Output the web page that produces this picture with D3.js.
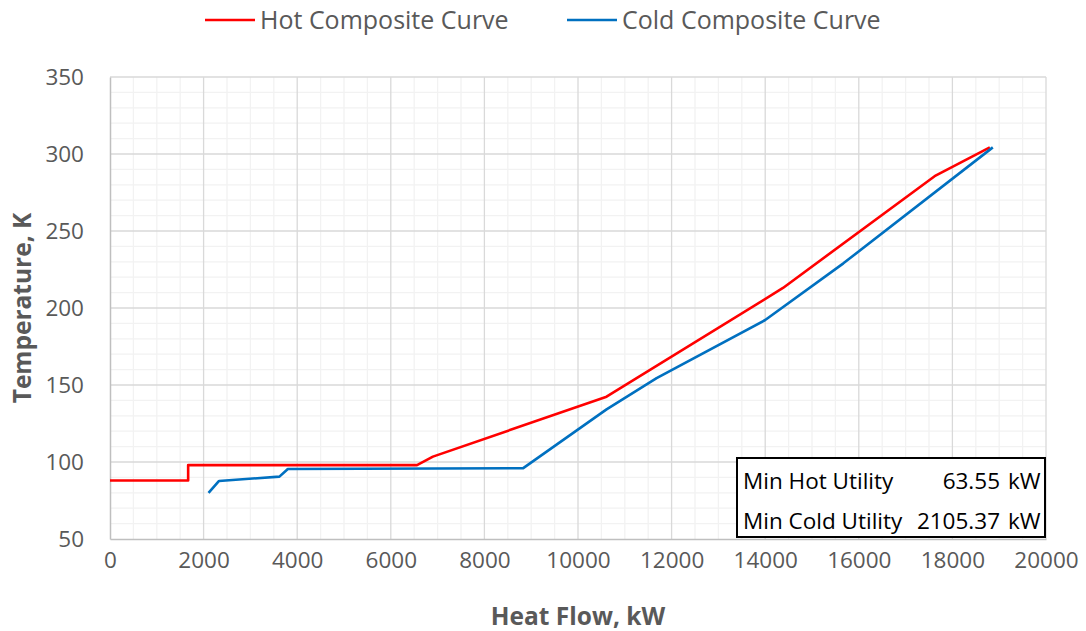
<!DOCTYPE html>
<html>
<head>
<meta charset="utf-8">
<script src="https://cdn.jsdelivr.net/npm/d3@7"></script>
<style>
  html, body { margin: 0; padding: 0; background: #fff; }
  svg { display: block; font-family: "Open Sans", "Noto Sans", sans-serif; }
</style>
</head>
<body>
<svg id="chart" width="1086" height="631"></svg>
<script>
// Composite curves: heat flow (kW) against temperature (K)
const hotHeat  = [0, 1670, 1670, 6560, 6900, 10610, 14380, 17620, 18800];
const hotTemp  = [88, 88, 98, 98, 103.5, 142.4, 213, 285.6, 304.3];
const coldHeat = [2105.37, 2330, 3620, 3800, 8830, 10610, 11680, 14000, 15670, 18863.55];
const coldTemp = [80, 87.7, 90.5, 95.5, 96, 134.2, 154.5, 192.2, 229, 304.3];

const xTicks = [0, 2000, 4000, 6000, 8000, 10000, 12000, 14000, 16000, 18000, 20000];
const yTicks = [50, 100, 150, 200, 250, 300, 350];

const seriesNames = ["Hot Composite Curve", "Cold Composite Curve"];
const seriesColors = ["#FF0000", "#0070C0"];

const utilityLabels = ["Min Hot Utility", "Min Cold Utility"];
const utilityValues = ["63.55", "2105.37"];
const utilityUnit = "kW";

const svg = d3.select("#chart");
const m = { left: 110, right: 1046, top: 77, bottom: 539 };

const x = d3.scaleLinear().domain([0, 20000]).range([m.left, m.right]);
const y = d3.scaleLinear().domain([50, 350]).range([m.bottom, m.top]);

// minor grid
const g = svg.append("g");
g.selectAll("line.mx").data(d3.range(0, 20001, 500).filter(v => v % 2000 !== 0))
  .join("line").attr("x1", d => x(d)).attr("x2", d => x(d))
  .attr("y1", m.top).attr("y2", m.bottom)
  .attr("stroke", "#f2f2f2").attr("stroke-width", 1.3);
g.selectAll("line.my").data(d3.range(50, 351, 10).filter(v => v % 50 !== 0))
  .join("line").attr("y1", d => y(d)).attr("y2", d => y(d))
  .attr("x1", m.left).attr("x2", m.right)
  .attr("stroke", "#f2f2f2").attr("stroke-width", 1.3);

// major grid
g.selectAll("line.gx").data(xTicks.slice(1))
  .join("line").attr("x1", d => x(d)).attr("x2", d => x(d))
  .attr("y1", m.top).attr("y2", m.bottom)
  .attr("stroke", "#d9d9d9").attr("stroke-width", 1.3);
g.selectAll("line.gy").data(yTicks.slice(1))
  .join("line").attr("y1", d => y(d)).attr("y2", d => y(d))
  .attr("x1", m.left).attr("x2", m.right)
  .attr("stroke", "#d9d9d9").attr("stroke-width", 1.3);

// axes
const xAxis = svg.append("g").attr("transform", `translate(0,${m.bottom})`)
  .call(d3.axisBottom(x).tickValues(xTicks).tickFormat(d3.format("d")).tickSize(0).tickPadding(13));
const yAxis = svg.append("g").attr("transform", `translate(${m.left},0)`)
  .call(d3.axisLeft(y).tickValues(yTicks).tickFormat(d3.format("d")).tickSize(0).tickPadding(26));
[xAxis, yAxis].forEach(a => {
  a.select(".domain").attr("stroke", "#bfbfbf").attr("stroke-width", 1.5);
  a.selectAll("text").attr("fill", "#595959").style("font-size", "22.5px")
    .style("font-family", "'Open Sans', sans-serif");
});
xAxis.selectAll("text").attr("dy", "0.71em");

// curves
const line = d3.line().x(d => x(d[0])).y(d => y(d[1]));
const hot = hotHeat.map((h, i) => [h, hotTemp[i]]);
const cold = coldHeat.map((h, i) => [h, coldTemp[i]]);
[hot, cold].forEach((pts, i) => {
  svg.append("path").datum(pts).attr("d", line)
    .attr("fill", "none").attr("stroke", seriesColors[i])
    .attr("stroke-width", 2.6).attr("stroke-linejoin", "round");
});

// axis titles
svg.append("text").attr("x", (m.left + m.right) / 2).attr("y", 625)
  .attr("text-anchor", "middle").attr("fill", "#595959")
  .style("font-size", "24.5px").style("font-weight", "bold")
  .text("Heat Flow, kW");
svg.append("text").attr("transform", `translate(31,${(m.top + m.bottom) / 2}) rotate(-90)`)
  .attr("text-anchor", "middle").attr("fill", "#595959")
  .style("font-size", "24.5px").style("font-weight", "bold")
  .text("Temperature, K");

// legend
const legendX = [205, 567];
seriesNames.forEach((name, i) => {
  const lg = svg.append("g").attr("transform", `translate(${legendX[i]},20)`);
  lg.append("line").attr("x1", 0).attr("x2", 50).attr("y1", 0).attr("y2", 0)
    .attr("stroke", seriesColors[i]).attr("stroke-width", 2.6);
  lg.append("text").attr("x", 55).attr("y", 0).attr("dy", "0.35em")
    .attr("fill", "#595959").style("font-size", "25px").text(name);
});

// utility table
const box = { x: 737, y: 458, w: 308, h: 79 };
const tb = svg.append("g");
tb.append("rect").attr("x", box.x).attr("y", box.y).attr("width", box.w).attr("height", box.h)
  .attr("fill", "#fff").attr("stroke", "#000").attr("stroke-width", 2);
utilityLabels.forEach((lab, i) => {
  const cy = box.y + 23 + i * 40;
  tb.append("text").attr("x", box.x + 6).attr("y", cy).attr("dy", "0.35em")
    .attr("fill", "#000").style("font-size", "22.5px").text(lab);
  tb.append("text").attr("x", box.x + 263).attr("y", cy).attr("dy", "0.35em")
    .attr("text-anchor", "end").attr("fill", "#000").style("font-size", "22.5px").text(utilityValues[i]);
  tb.append("text").attr("x", box.x + 271).attr("y", cy).attr("dy", "0.35em")
    .attr("fill", "#000").style("font-size", "22.5px").text(utilityUnit);
});
</script>
</body>
</html>
